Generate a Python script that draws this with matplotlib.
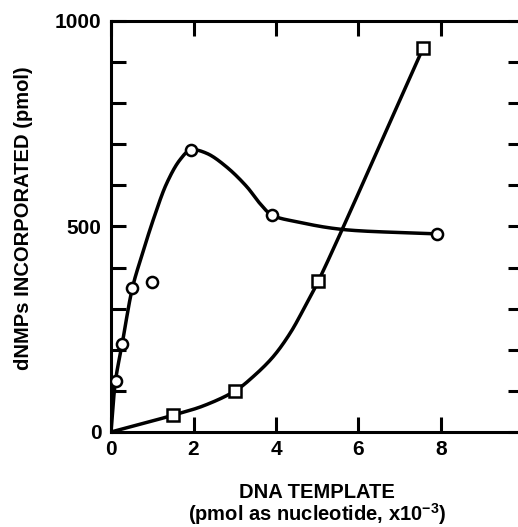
import matplotlib
matplotlib.use("Agg")
import matplotlib.pyplot as plt
import numpy as np

plt.rcParams["font.family"] = ["Liberation Sans", "DejaVu Sans"]
plt.rcParams["font.weight"] = "bold"
plt.rcParams["mathtext.fontset"] = "custom"
plt.rcParams["mathtext.rm"] = "Liberation Sans:bold"
plt.rcParams["mathtext.default"] = "rm"

# open circles (measured points) and the hand-drawn curve through them
circle_x = [0.11, 0.27, 0.52, 1.93, 3.90, 7.90]
circle_y = [125, 214, 351, 686, 528, 482]
outlier_x = [1.0]
outlier_y = [366]
circle_curve_x = [0.0, 0.11, 0.27, 0.52, 0.74, 1.05, 1.35, 1.67, 1.93, 2.32, 2.80, 3.29, 3.61, 3.90, 4.58, 5.59, 7.90]
circle_curve_y = [0, 125, 214, 351, 427, 524, 605, 662, 686, 678, 645, 597, 556, 528, 510, 493, 482]

# open squares and their curve
square_x = [1.51, 3.01, 5.03, 7.57]
square_y = [41, 100, 368, 935]
square_curve_x = [0.0, 0.75, 1.51, 2.25, 3.01, 3.45, 3.93, 4.34, 4.66, 5.03, 7.57]
square_curve_y = [0, 20, 41, 64, 100, 135, 183, 240, 297, 368, 935]

x_ticks = [0, 2, 4, 6, 8]
y_ticks = [0, 500, 1000]
y_minor = [100, 200, 300, 400, 600, 700, 800, 900]


def smooth(xs, ys, n=30, sx=41.25, sy=0.411):
    """Centripetal Catmull-Rom through the traced points (in pixel-like units), just for the pen line."""
    p = np.column_stack([np.asarray(xs) * sx, np.asarray(ys) * sy]).astype(float)
    p = np.vstack([2 * p[0] - p[1], p, 2 * p[-1] - p[-2]])
    out = []
    for i in range(1, len(p) - 2):
        p0, p1, p2, p3 = p[i - 1], p[i], p[i + 1], p[i + 2]
        t0 = 0.0
        t1 = t0 + np.linalg.norm(p1 - p0) ** 0.5
        t2 = t1 + np.linalg.norm(p2 - p1) ** 0.5
        t3 = t2 + np.linalg.norm(p3 - p2) ** 0.5
        t = np.linspace(t1, t2, n, endpoint=False)[:, None]
        a1 = (t1 - t) / (t1 - t0) * p0 + (t - t0) / (t1 - t0) * p1
        a2 = (t2 - t) / (t2 - t1) * p1 + (t - t1) / (t2 - t1) * p2
        a3 = (t3 - t) / (t3 - t2) * p2 + (t - t2) / (t3 - t2) * p3
        b1 = (t2 - t) / (t2 - t0) * a1 + (t - t0) / (t2 - t0) * a2
        b2 = (t3 - t) / (t3 - t1) * a2 + (t - t1) / (t3 - t1) * a3
        out.append((t2 - t) / (t2 - t1) * b1 + (t - t1) / (t2 - t1) * b2)
    out.append(p[-2][None, :])
    out = np.vstack(out)
    return out[:, 0] / sx, out[:, 1] / sy


fig = plt.figure(figsize=(5.18, 5.27), dpi=100)
ax = fig.add_axes([0.2143, 0.1803, 0.7963, 0.7799])

cx, cy = smooth(circle_curve_x, circle_curve_y)
sx, sy = smooth(square_curve_x, square_curve_y)
ax.plot(cx, cy, color="black", linewidth=2.5, solid_capstyle="round", zorder=2)
ax.plot(sx, sy, color="black", linewidth=2.5, solid_capstyle="round", zorder=2)

mk = dict(markerfacecolor="white", markeredgecolor="black", markeredgewidth=1.8, zorder=3)
ax.plot(circle_x, circle_y, "o", markersize=8, **mk)
ax.plot(outlier_x, outlier_y, "o", markersize=8, **mk)
ax.plot(square_x, square_y, "s", markersize=8, **mk)

ax.set_xlim(0, 10)
ax.set_ylim(0, 1000)
ax.set_xticks(x_ticks)
ax.set_yticks(y_ticks)
ax.set_yticks(y_minor, minor=True)
ax.tick_params(which="both", direction="in", top=True, right=True,
               length=11, width=2.2, labelsize=15)
ax.tick_params(axis="x", pad=6)
ax.tick_params(axis="y", pad=7)
for lab in ax.get_xticklabels() + ax.get_yticklabels():
    lab.set_fontweight("bold")
for side in ["left", "top", "bottom", "right"]:
    ax.spines[side].set_linewidth(2.2)
ax.spines["right"].set_visible(False)

xc = 0.2143 + 0.7963 / 2
fig.text(xc, 0.055, "DNA TEMPLATE", ha="center", va="baseline",
         fontsize=14.5, fontweight="bold")
fig.text(xc, 0.012, r"(pmol as nucleotide, x10$^{-3}$)", ha="center", va="baseline",
         fontsize=14.5, fontweight="bold")
fig.text(0.045, 0.586, "dNMPs INCORPORATED (pmol)", rotation=90, ha="center",
         va="center", fontsize=14.5, fontweight="bold")

fig.savefig("out.png", dpi=100)
